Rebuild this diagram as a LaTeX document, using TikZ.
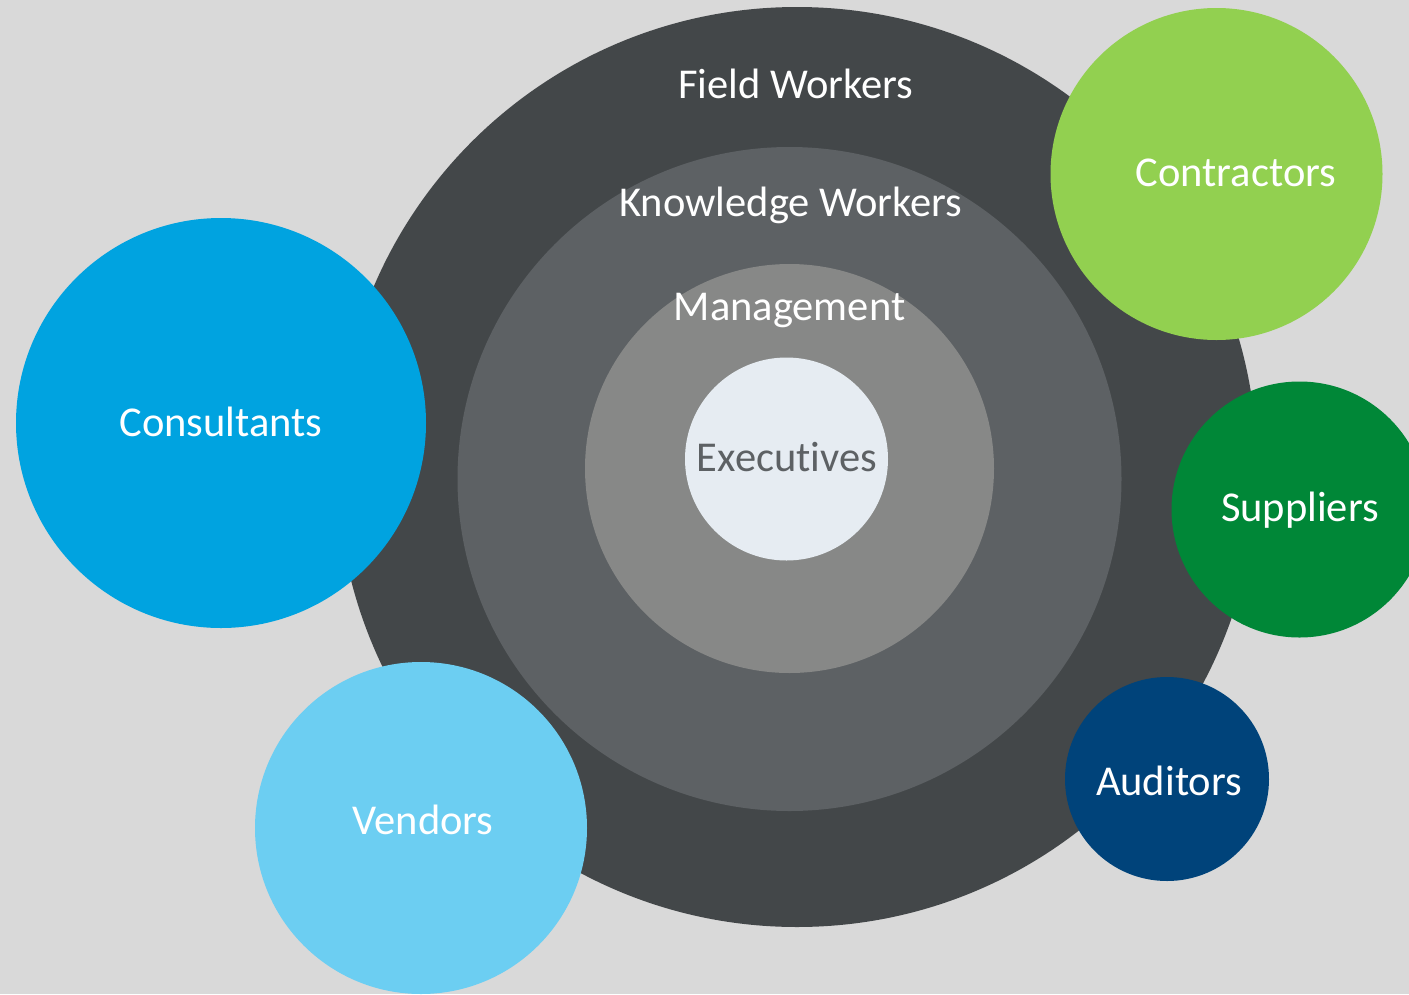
\documentclass[tikz,border=0pt]{standalone}
\usepackage{fontspec}
\setmainfont{Carlito}[Ligatures={NoCommon}]
\definecolor{bg}{HTML}{D9D9D9}
\definecolor{fieldc}{HTML}{434749}
\definecolor{knowc}{HTML}{5D6164}
\definecolor{mgmtc}{HTML}{878887}
\definecolor{execc}{HTML}{E6ECF2}
\definecolor{exectext}{HTML}{5D6164}
\definecolor{consc}{HTML}{00A3E0}
\definecolor{vendc}{HTML}{6CCEF2}
\definecolor{contc}{HTML}{92D050}
\definecolor{suppc}{HTML}{008737}
\definecolor{audc}{HTML}{00437A}
\tikzset{
  disc/.style={circle, inner sep=0pt, outer sep=0pt, draw=none},
  lbl/.style={inner sep=0pt, text=white, font=\fontsize{42.5}{50}\selectfont, anchor=center}
}
\begin{document}
\begin{tikzpicture}[x=1pt,y=-1pt]
\useasboundingbox (0,0) rectangle (1409,994);
\fill[bg] (0,0) rectangle (1409,994);
\clip (0,0) rectangle (1409,994);
% concentric circles
\node[disc, fill=fieldc, minimum size=920pt] (field) at (797,467) {};
\node[disc, fill=knowc, minimum size=664pt] (know) at (789.5,479) {};
\node[disc, fill=mgmtc, minimum size=409pt] (mgmt) at (789.5,468.5) {};
\node[disc, fill=execc, minimum size=203pt] (exec) at (786.5,459) {};
% outer circles
\node[disc, fill=consc, minimum size=410pt] (cons) at (221,423) {};
\node[disc, fill=vendc, minimum size=332pt] (vend) at (421,828) {};
\node[disc, fill=contc, minimum size=332pt] (cont) at (1216.5,174) {};
\node[disc, fill=suppc, minimum size=256pt] (supp) at (1299.5,509.5) {};
\node[disc, fill=audc, minimum size=204pt] (aud) at (1167,779) {};
% labels
\node[lbl] (tfield) at (796,84) {Field Workers};
\node[lbl] (tknow) at (791,205) {Knowledge Workers};
\node[lbl] (tmgmt) at (789.5,311) {Management};
\node[lbl, text=exectext] (texec) at (787,457) {Executives};
\node[lbl] (tcons) at (221,422) {Consultants};
\node[lbl] (tvend) at (423,820) {Vendors};
\node[lbl] (tcont) at (1236,173) {Contractors};
\node[lbl] (tsupp) at (1300,510) {Suppliers};
\node[lbl] (taud) at (1169,781) {Auditors};
\end{tikzpicture}
\end{document}
